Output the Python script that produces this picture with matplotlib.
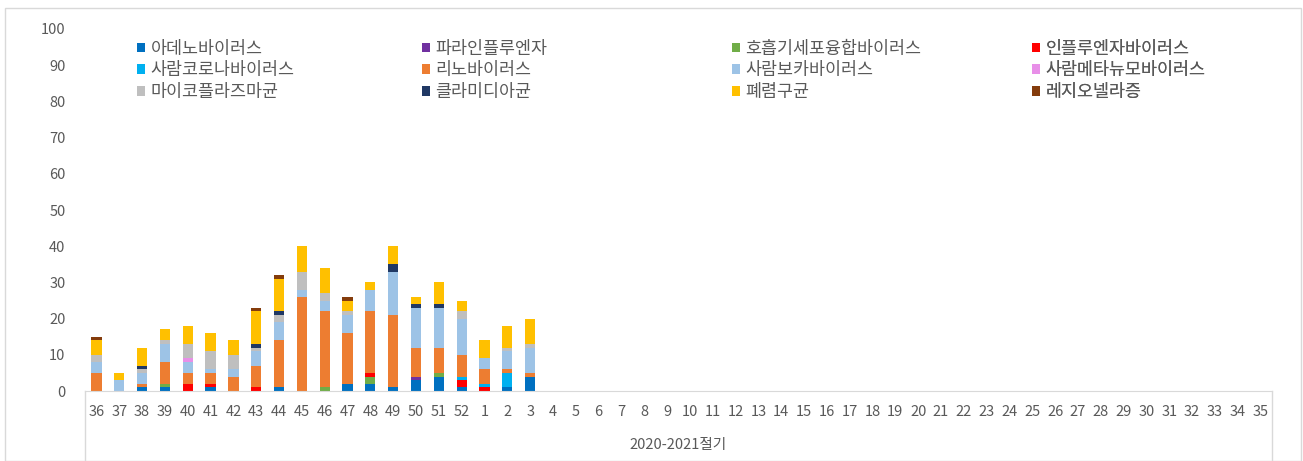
import matplotlib.pyplot as plt
from matplotlib.patches import Rectangle

plt.rcParams['font.family'] = ['Noto Sans CJK KR', 'DejaVu Sans']

# 주차 (2020-2021절기)
weeks = [str(w) for w in list(range(36, 53)) + list(range(1, 36))]
n_data = 20  # 36주 ~ 3주까지 자료

series_names = ['아데노바이러스', '파라인플루엔자', '호흡기세포융합바이러스', '인플루엔자바이러스',
                '사람코로나바이러스', '리노바이러스', '사람보카바이러스', '사람메타뉴모바이러스',
                '마이코플라즈마균', '클라미디아균', '폐렴구균', '레지오넬라증']
colors = ['#0070C0', '#7030A0', '#70AD47', '#FF0000',
          '#00B0F0', '#ED7D31', '#9DC3E6', '#E88FE8',
          '#BFBFBF', '#203864', '#FFC000', '#843C0C']

#           36 37 38 39 40 41 42 43  44  45  46  47  48  49  50  51  52  1  2  3
adeno    = [0, 0, 1, 1, 0, 1, 0, 0,  1,  0,  0,  2,  2,  1,  3,  4,  1, 0, 1, 4]
para     = [0, 0, 0, 0, 0, 0, 0, 0,  0,  0,  0,  0,  0,  0,  1,  0,  0, 0, 0, 0]
rsv      = [0, 0, 0, 1, 0, 0, 0, 0,  0,  0,  1,  0,  2,  0,  0,  1,  0, 0, 0, 0]
flu      = [0, 0, 0, 0, 2, 1, 0, 1,  0,  0,  0,  0,  1,  0,  0,  0,  2, 1, 0, 0]
corona   = [0, 0, 0, 0, 0, 0, 0, 0,  0,  0,  0,  0,  0,  0,  0,  0,  1, 1, 4, 0]
rhino    = [5, 0, 1, 6, 3, 3, 4, 6, 13, 26, 21, 14, 17, 20,  8,  7,  6, 4, 1, 1]
boca     = [3, 3, 3, 5, 3, 1, 2, 4,  5,  2,  3,  5,  6, 12, 11, 11, 10, 3, 5, 7]
meta     = [0, 0, 0, 0, 1, 0, 0, 0,  0,  0,  0,  0,  0,  0,  0,  0,  0, 0, 0, 0]
myco     = [2, 0, 1, 1, 4, 5, 4, 1,  2,  5,  2,  1,  0,  0,  0,  0,  2, 0, 1, 1]
chlam    = [0, 0, 1, 0, 0, 0, 0, 1,  1,  0,  0,  0,  0,  2,  1,  1,  0, 0, 0, 0]
strep    = [4, 2, 5, 3, 5, 5, 4, 9,  9,  7,  7,  3,  2,  5,  2,  6,  3, 5, 6, 7]
legion   = [1, 0, 0, 0, 0, 0, 0, 1,  1,  0,  0,  1,  0,  0,  0,  0,  0, 0, 0, 0]

data = [adeno, para, rsv, flu, corona, rhino, boca, meta, myco, chlam, strep, legion]

fig = plt.figure(figsize=(13.03, 4.61), dpi=100)
ax = fig.add_axes([85 / 1303, 70 / 461, 1187 / 1303, 362 / 461])

x_all = list(range(len(weeks)))
x = x_all[:n_data]
bottom = [0] * n_data
handles = []
for name, vals, c in zip(series_names, data, colors):
    b = ax.bar(x, vals, width=0.45, bottom=bottom, color=c, label=name)
    handles.append(b)
    bottom = [p + q for p, q in zip(bottom, vals)]

ax.set_xlim(-0.5, len(weeks) - 0.5)
ax.set_ylim(0, 100)
ax.set_yticks(range(0, 101, 10))
ax.set_xticks(x_all)
ax.set_xticklabels(weeks, fontsize=10.5, color='#595959')
ax.tick_params(axis='y', labelsize=10.5, labelcolor='#595959', length=0, pad=14)
ax.tick_params(axis='x', length=0, pad=10)
for s in ['top', 'right', 'left']:
    ax.spines[s].set_visible(False)
ax.spines['bottom'].set_color('#d9d9d9')

# 다중 범주 축 구분선
for xv in [0, 1]:
    ax.plot([xv, xv], [0, -70 / 362], transform=ax.transAxes, color='#d9d9d9',
            lw=1, clip_on=False)
ax.text(0.5, -54 / 362, '2020-2021절기', transform=ax.transAxes, ha='center',
        va='center', fontsize=10.5, color='#595959')

# 범례: 4열
col_x = [128, 413, 723, 1023]
for ci in range(4):
    idx = [ci, ci + 4, ci + 8]
    leg = ax.legend([handles[i] for i in idx], [series_names[i] for i in idx],
                    loc='upper left', bbox_to_anchor=(col_x[ci] / 1303, 1 - 31 / 461),
                    bbox_transform=fig.transFigure, frameon=False, fontsize=12.5,
                    handlelength=0.5, handleheight=0.5, handletextpad=0.3,
                    labelspacing=0.22, borderpad=0, labelcolor='#595959')
    ax.add_artist(leg)

fig.patches.append(Rectangle((5 / 1303, 0), 1296 / 1303, 453 / 461, transform=fig.transFigure,
                             fill=False, edgecolor='#d9d9d9', lw=1))

fig.savefig('out.png', dpi=100)
